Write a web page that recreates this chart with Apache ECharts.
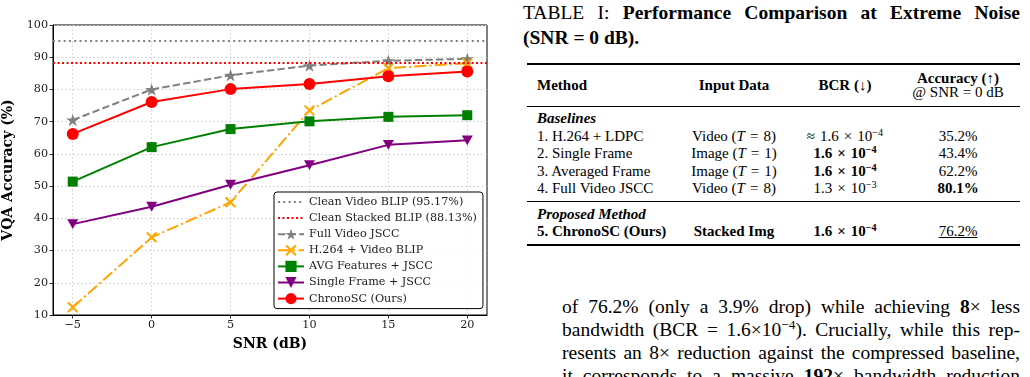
<!DOCTYPE html>
<html><head><meta charset="utf-8">
<script src="https://cdn.jsdelivr.net/npm/echarts@6/dist/echarts.min.js"></script>
<style>
html,body{margin:0;padding:0;background:#fff;width:1030px;height:377px;overflow:hidden;position:relative;}
#chart{position:absolute;left:0;top:0;width:510px;height:377px;}
.t{position:absolute;font-family:"Liberation Serif","Times New Roman",serif;color:#000;white-space:nowrap;}
.cap{font-size:19.5px;line-height:22px;left:523px;width:497px;text-align:justify;text-align-last:justify;}
.body{font-size:19.5px;line-height:22px;left:562px;width:458px;text-align:justify;text-align-last:justify;}
.tb{font-size:15px;line-height:17px;}
.c2{left:680px;width:108px;text-align:center;}
.c3{left:790px;width:110px;text-align:center;}
.c4{left:908px;width:100px;text-align:center;}
.rule{position:absolute;left:527px;width:493px;background:#000;}
sup{font-size:0.68em;line-height:0;vertical-align:0.5em;}
i{font-style:italic;}
.op{display:inline-block;margin:0 5px;}
</style></head><body>
<div id="chart"></div>

<div class="t cap" style="top:2px;">TABLE I: <b>Performance Comparison at Extreme Noise</b></div>
<div class="t" style="left:523px;top:27px;font-size:19.5px;line-height:22px;"><b>(SNR = 0 dB).</b></div>

<div class="rule" style="top:63px;height:1.6px;"></div>
<div class="t tb" style="left:537px;top:77px;"><b>Method</b></div>
<div class="t tb c2" style="top:77px;"><b>Input Data</b></div>
<div class="t tb c3" style="top:77px;"><b>BCR (↓)</b></div>
<div class="t tb c4" style="top:70px;"><b>Accuracy (↑)</b></div>
<div class="t tb c4" style="top:84px;">@ SNR = 0 dB</div>
<div class="rule" style="top:106px;height:1px;"></div>

<div class="t tb" style="left:537px;top:110px;"><b><i>Baselines</i></b></div>
<div class="t tb" style="left:537px;top:128px;">1. H.264 + LDPC</div>
<div class="t tb c2" style="top:128px;">Video (<i>T</i><span class="op">=</span>8)</div>
<div class="t tb c3" style="top:128px;"><span class="op" style="margin-left:0">≈</span>1.6<span class="op">×</span>10<sup>−4</sup></div>
<div class="t tb c4" style="top:128px;">35.2%</div>
<div class="t tb" style="left:537px;top:145px;">2. Single Frame</div>
<div class="t tb c2" style="top:145px;">Image (<i>T</i><span class="op">=</span>1)</div>
<div class="t tb c3" style="top:145px;"><b>1.6<span class="op">×</span>10<sup>−4</sup></b></div>
<div class="t tb c4" style="top:145px;">43.4%</div>
<div class="t tb" style="left:537px;top:163px;">3. Averaged Frame</div>
<div class="t tb c2" style="top:163px;">Image (<i>T</i><span class="op">=</span>1)</div>
<div class="t tb c3" style="top:163px;"><b>1.6<span class="op">×</span>10<sup>−4</sup></b></div>
<div class="t tb c4" style="top:163px;">62.2%</div>
<div class="t tb" style="left:537px;top:180px;">4. Full Video JSCC</div>
<div class="t tb c2" style="top:180px;">Video (<i>T</i><span class="op">=</span>8)</div>
<div class="t tb c3" style="top:180px;">1.3<span class="op">×</span>10<sup>−3</sup></div>
<div class="t tb c4" style="top:180px;"><b>80.1%</b></div>
<div class="rule" style="top:201px;height:1px;"></div>

<div class="t tb" style="left:537px;top:206px;"><b><i>Proposed Method</i></b></div>
<div class="t tb" style="left:537px;top:223px;"><b>5. ChronoSC (Ours)</b></div>
<div class="t tb c2" style="top:223px;"><b>Stacked Img</b></div>
<div class="t tb c3" style="top:223px;"><b>1.6<span class="op">×</span>10<sup>−4</sup></b></div>
<div class="t tb c4" style="top:223px;"><u>76.2%</u></div>
<div class="rule" style="top:244px;height:1.6px;"></div>

<div class="t body" style="top:296px;">of 76.2% (only a 3.9% drop) while achieving <b>8</b>× less</div>
<div class="t body" style="top:319px;">bandwidth (BCR = 1.6×10<sup>−4</sup>). Crucially, while this rep-</div>
<div class="t body" style="top:342px;">resents an 8× reduction against the compressed baseline,</div>
<div class="t body" style="top:365px;">it corresponds to a massive <b>192</b>× bandwidth reduction</div>

<script>
// ---- data ----
const snr = [-5, 0, 5, 10, 15, 20];
const fullVideoJSCC = [70.5, 80.0, 84.4, 87.4, 88.9, 89.5];
const h264VideoBLIP = [12.4, 34.1, 45.0, 73.5, 86.6, 88.1];
const avgFeaturesJSCC = [51.4, 62.1, 67.7, 70.1, 71.5, 72.0];
const singleFrameJSCC = [38.2, 43.6, 50.4, 56.5, 62.8, 64.2];
const chronoSC = [66.2, 76.1, 80.1, 81.7, 84.1, 85.6];
const cleanVideoBLIP = 95.17;
const cleanStackedBLIP = 88.13;
const xTicks = [-5, 0, 5, 10, 15, 20];

const FONT = "'DejaVu Serif', serif";
const starPath = 'path://M100,0 L122.45,69.1 L195.11,69.1 L136.33,111.8 L158.78,180.9 L100,138.2 L41.22,180.9 L63.67,111.8 L4.89,69.1 L77.55,69.1 Z';
const xPath = 'path://M0,13 L13,0 L50,37 L87,0 L100,13 L63,50 L100,87 L87,100 L50,63 L13,100 L0,87 L37,50 Z';
const triDown = 'path://M0,0 L100,0 L50,90 Z';

function pairs(arr){ return snr.map((x,i)=>[x, arr[i]]); }
function lineSeries(name, arr, color, type, symbol, size, extra){
  return Object.assign({
    name, type:'line', data: pairs(arr),
    symbol, symbolSize:size, symbolKeepAspect:true, showSymbol:true, showAllSymbol:true,
    lineStyle:{color, width:2, type},
    itemStyle:{color, borderWidth:0},
    emphasis:{disabled:true}, z:3
  }, extra||{});
}
function refSeries(name, value, color, dash){
  return {
    name, type:'line', data:[], symbol:'none',
    lineStyle:{color, width:2, type:dash},
    itemStyle:{color, opacity:0},
    markLine:{symbol:'none', silent:true, label:{show:false}, animation:false,
      lineStyle:{color, width:2, type:dash}, data:[{yAxis:value}]},
    z:2
  };
}

const chart = echarts.init(document.getElementById('chart'), null, {renderer:'canvas'});
chart.setOption({
  animation:false,
  grid:{left:53, right:23, top:25, bottom:62, outerBoundsMode:'none', containLabel:false,
    show:true, borderColor:'#000', borderWidth:1, backgroundColor:'transparent'},
  xAxis:{
    type:'value', min:-6.25, max:21.25,
    name:'SNR (dB)', nameLocation:'middle', nameGap:22,
    nameTextStyle:{fontFamily:FONT, fontWeight:'bold', fontSize:14, color:'#000'},
    axisLine:{show:true, onZero:false, lineStyle:{color:'#000', width:1}},
    axisTick:{show:true, length:3.5, inside:false, customValues:xTicks, lineStyle:{color:'#000', width:0.8}},
    axisLabel:{customValues:xTicks, fontFamily:FONT, fontSize:11.2, color:'#222', margin:5,
      formatter:v=> v<0 ? '\u2212'+Math.abs(v) : String(v)},
    splitLine:{show:true, lineStyle:{color:'#d0d0d0', width:0.8, type:[2,2]}}
  },
  yAxis:{
    type:'value', min:10, max:100, interval:10,
    name:'VQA Accuracy (%)', nameLocation:'middle', nameGap:33,
    nameTextStyle:{fontFamily:FONT, fontWeight:'bold', fontSize:14, color:'#000'},
    axisLine:{show:true, onZero:false, lineStyle:{color:'#000', width:1}},
    axisTick:{show:true, length:3.5, lineStyle:{color:'#000', width:0.8}},
    axisLabel:{fontFamily:FONT, fontSize:11.2, color:'#222', margin:5},
    splitLine:{show:true, lineStyle:{color:'#d0d0d0', width:0.8, type:[2,2]}}
  },
  legend:{
    orient:'vertical', left:274, top:192,
    padding:[3,6,3,3], itemWidth:26, itemHeight:14, itemGap:2.1,
    backgroundColor:'rgba(255,255,255,0.85)', borderColor:'#000', borderWidth:1, borderRadius:3,
    textStyle:{fontFamily:FONT, fontSize:11.2, color:'#222', lineHeight:14},
    data:['Clean Video BLIP (95.17%)','Clean Stacked BLIP (88.13%)','Full Video JSCC','H.264 + Video BLIP','AVG Features + JSCC','Single Frame + JSCC','ChronoSC (Ours)']
  },
  series:[
    refSeries('Clean Video BLIP (95.17%)', cleanVideoBLIP, '#808080', [2,3.3]),
    refSeries('Clean Stacked BLIP (88.13%)', cleanStackedBLIP, '#ff0000', [2,2.5]),
    lineSeries('Full Video JSCC', fullVideoJSCC, '#808080', [7.4,3.2], starPath, 13),
    lineSeries('H.264 + Video BLIP', h264VideoBLIP, '#ffa500', [12,3.2,2,3.2], xPath, 11),
    lineSeries('AVG Features + JSCC', avgFeaturesJSCC, '#008000', 'solid', 'rect', 10),
    lineSeries('Single Frame + JSCC', singleFrameJSCC, '#800080', 'solid', triDown, 11),
    lineSeries('ChronoSC (Ours)', chronoSC, '#ff0000', 'solid', 'circle', 12)
  ]
});
</script>
</body></html>
